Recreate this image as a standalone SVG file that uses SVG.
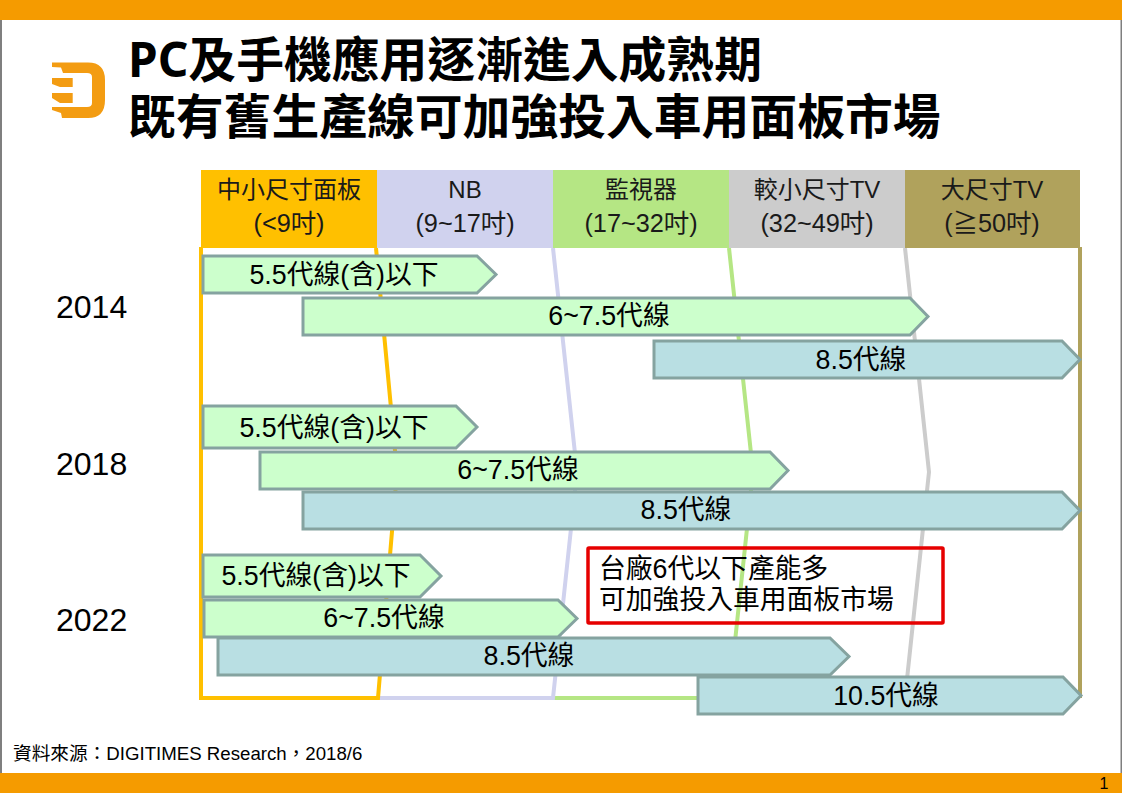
<svg xmlns="http://www.w3.org/2000/svg" width="1122" height="793" viewBox="0 0 1122 793">
<style>
text{font-family:"Liberation Sans","Noto Sans CJK TC",sans-serif;fill:#000}
.t{font-family:"Noto Sans","Noto Sans CJK TC",sans-serif;font-size:47.800px;font-weight:700}
.h{font-size:24px;text-anchor:middle;fill:#1a1a1a}
.h2{font-size:25.300px;text-anchor:middle;fill:#1a1a1a}
.b{font-size:26.800px;text-anchor:middle}
.n{font-size:26.800px}
.y{font-size:32px}
.lane{fill:none;stroke-width:4}
.g{fill:#ccffcc;stroke:#85a3a0;stroke-width:3}
.c{fill:#b9dfe3;stroke:#85a3a0;stroke-width:3}
</style>
<rect width="1122" height="793" fill="#fff"/>
<rect x="0" y="0" width="2" height="793" fill="#7f7f7f"/>
<rect x="1120.500" y="0" width="1.500" height="793" fill="#7f7f7f"/>
<g id="frame">
<rect x="0" y="0" width="1122" height="20" fill="#f59b00"/>
<rect x="0" y="773" width="1122" height="20" fill="#f59b00"/>
<text x="1104" y="789" font-size="16" fill="#333" text-anchor="middle">1</text>
</g>
<path id="logo" fill="#f39c12" d="M52 62.500H88Q105 62.500 105 80V100Q105 118 88 118H62L61 113L52 110V107H87Q92 107 92 103V77Q92 73 87 73H63L61 67.500L52 67ZM52 78H72.700V87H60L52 84ZM52 93H72.700V103H60L52 98Z"/>
<g id="title">
<text class="t" x="128" y="77">PC及手機應用逐漸進入成熟期</text>
<text class="t" x="128" y="134">既有舊生產線可加強投入車用面板市場</text>
</g>
<g id="lanes">
<path class="lane" stroke="#b0a25c" d="M1080 247V698"/>
<path class="lane" stroke="#cccccc" d="M905 248L929 472L905 698"/>
<path class="lane" stroke="#b5e684" d="M729 248L753 472L729 698H553"/>
<path class="lane" stroke="#d0d2ee" d="M553 248L577 472L553 698H378"/>
<path class="lane" stroke="#ffc000" d="M201 247V698H378L397 472L376 248"/>
</g>
<g id="head-small"><rect x="201" y="170" width="176" height="78" fill="#ffc000"/><text class="h" x="289" y="198">中小尺寸面板</text><text class="h2" x="289" y="232">(&lt;9吋)</text></g>
<g id="head-nb"><rect x="377" y="170" width="176" height="78" fill="#d0d2ee"/><text class="h" x="465" y="198">NB</text><text class="h2" x="465" y="232">(9~17吋)</text></g>
<g id="head-monitor"><rect x="553" y="170" width="176" height="78" fill="#b5e684"/><text class="h" x="641" y="198">監視器</text><text class="h2" x="641" y="232">(17~32吋)</text></g>
<g id="head-tv"><rect x="729" y="170" width="176" height="78" fill="#cccccc"/><text class="h" x="817" y="198">較小尺寸TV</text><text class="h2" x="817" y="232">(32~49吋)</text></g>
<g id="head-ltv"><rect x="905" y="170" width="175" height="78" fill="#b0a25c"/><text class="h" x="992" y="198">大尺寸TV</text><text class="h2" x="992" y="232">(≧50吋)</text></g>
<text class="y" x="56" y="318">2014</text>
<text class="y" x="56" y="475">2018</text>
<text class="y" x="56" y="631">2022</text>
<g id="bar-2014-a"><path class="g" d="M203 256H477L496 274.500L477 293H203Z"/><text class="b" x="344" y="284">5.5代線(含)以下</text></g>
<g id="bar-2014-b"><path class="g" d="M303 298H910L928 316.500L910 335H303Z"/><text class="b" x="609" y="325">6~7.5代線</text></g>
<g id="bar-2014-c"><path class="c" d="M654 341H1062L1080 359.500L1062 378H654Z"/><text class="b" x="861" y="369">8.5代線</text></g>
<g id="bar-2018-a"><path class="g" d="M203 406H456L477 427L456 448H203Z"/><text class="b" x="334" y="437">5.5代線(含)以下</text></g>
<g id="bar-2018-b"><path class="g" d="M260 452H770L788 470.500L770 489H260Z"/><text class="b" x="518" y="479">6~7.5代線</text></g>
<g id="bar-2018-c"><path class="c" d="M303 492H1062L1080 510.500L1062 529H303Z"/><text class="b" x="686" y="519">8.5代線</text></g>
<g id="bar-2022-a"><path class="g" d="M203 555H420L441 576L420 597H203Z"/><text class="b" x="316" y="585">5.5代線(含)以下</text></g>
<g id="bar-2022-b"><path class="g" d="M204 600H558L577 618.500L558 637H204Z"/><text class="b" x="384" y="627">6~7.5代線</text></g>
<g id="bar-2022-c"><path class="c" d="M218 638H830L849 656.500L830 675H218Z"/><text class="b" x="529" y="665">8.5代線</text></g>
<g id="bar-2022-d"><path class="c" d="M698 677H1063L1081 695.500L1063 714H698Z"/><text class="b" x="886" y="705">10.5代線</text></g>
<g id="note"><rect x="588" y="548" width="355" height="75" fill="none" stroke="#e60000" stroke-width="3.500" rx="1"/>
<text class="n" x="599" y="578">台廠6代以下產能多</text><text class="n" x="599" y="609">可加強投入車用面板市場</text></g>
<text x="13" y="760" font-size="18.670">資料來源：DIGITIMES Research，2018/6</text>
</svg>
